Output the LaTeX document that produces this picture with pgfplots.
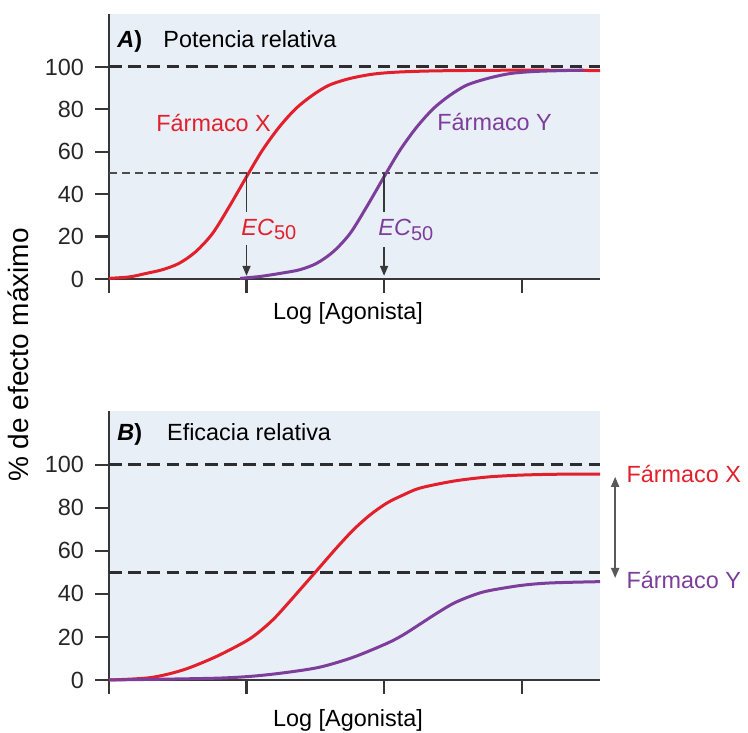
\documentclass[border=0pt]{standalone}
\usepackage{fontspec}
\setmainfont{Liberation Sans}
\usepackage{pgfplots}
\pgfplotsset{compat=1.18}
\usetikzlibrary{arrows.meta}

\definecolor{redX}{RGB}{226,32,44}
\definecolor{purY}{RGB}{125,62,155}
\definecolor{bgblue}{RGB}{233,239,247}
\definecolor{axgray}{RGB}{55,55,55}
\definecolor{dashgray}{RGB}{45,45,48}

\newcommand{\ec}{\textit{EC}\raisebox{-0.35ex}{\fontsize{10}{11}\selectfont 50}}

\tikzset{arr/.style={axgray, line width=0.8pt}}

\pgfplotsset{
  farm/.style={
    scale only axis, width=245.5pt,
    xmin=0, xmax=3.57, ymin=0, ymax=125,
    enlargelimits=false, clip=false,
    axis lines=left, axis line style={-, line width=1.3pt, color=axgray},
    axis background/.style={fill=bgblue},
    xtick={0,1,2,3}, xticklabels={},
    ytick={0,20,40,60,80,100},
    tick align=outside, major tick length=7pt,
    tick style={line width=1.1pt, color=axgray},
    yticklabel style={font=\fontsize{11.7}{14}\selectfont, color=black!85, xshift=-2pt},
    /pgf/number format/assume math mode=true,
  },
  curve/.style={line width=1.5pt, smooth, no marks},
  thickdash/.style={dashgray, line width=1.5pt, dash pattern=on 6.3pt off 3.3pt, no marks},
}

\begin{document}
\begin{tikzpicture}[font=\fontsize{11.7}{14}\selectfont]
\path[use as bounding box] (0,0) rectangle (374pt,366pt);

% A) Potencia relativa
\begin{axis}[farm, height=132.5pt, at={(54.5pt,226.5pt)}, anchor=south west]
  \addplot[thickdash] coordinates {(0,100) (3.57,100)};
  \addplot[dashgray!85, line width=0.85pt, dash pattern=on 4pt off 2.5pt, no marks] coordinates {(0,50) (3.57,50)};
  \addplot[curve, redX] coordinates {
    (0,0.3) (0.15,1.0) (0.268,2.6) (0.389,4.4) (0.51,7.4) (0.631,12.9) (0.753,21.5)
    (0.874,34.1) (1.007,49) (1.116,60.8) (1.238,71.7) (1.359,80.4) (1.48,86.7)
    (1.60,91.4) (1.747,94.5) (1.916,96.6) (2.1,97.6) (2.4,98.2) (3.0,98.5) (3.57,98.3)
  };
  \addplot[curve, purY] coordinates {
    (0.953,0.3) (1.1,1.2) (1.268,2.9) (1.389,4.4) (1.51,7.4) (1.631,12.9) (1.753,21.5)
    (1.874,34.1) (2.007,49) (2.116,60.8) (2.238,71.7) (2.359,80.4) (2.48,86.7)
    (2.60,91.4) (2.747,94.5) (2.916,96.9) (3.1,97.9) (3.3,98.3) (3.45,98.5)
  };
  \draw[arr] (axis cs:1,50) -- (axis cs:1,31.5);
  \draw[arr, -{Triangle[length=5pt,width=4pt]}] (axis cs:1,16) -- (axis cs:1,1.5);
  \draw[arr] (axis cs:2,50) -- (axis cs:2,31.5);
  \draw[arr, -{Triangle[length=5pt,width=4pt]}] (axis cs:2,15) -- (axis cs:2,1.5);
  \node[anchor=base west, inner sep=0pt, redX] at (axis cs:0.96,20.7) {\ec};
  \node[anchor=base west, inner sep=0pt, purY] at (axis cs:1.956,20.3) {\ec};
  \node[anchor=base west, inner sep=0pt, redX] at (axis cs:0.342,69.7) {Fármaco X};
  \node[anchor=base west, inner sep=0pt, purY] at (axis cs:2.385,70.2) {Fármaco Y};
  \node[anchor=base west, inner sep=0pt] at (axis cs:0.058,109.3) {\textbf{\textit{A})}};
  \node[anchor=base west, inner sep=0pt] at (axis cs:0.393,109.3) {Potencia relativa};
\end{axis}

% B) Eficacia relativa
\begin{axis}[farm, height=134.5pt, at={(54.5pt,26pt)}, anchor=south west]
  \addplot[thickdash] coordinates {(0,100) (3.57,100)};
  \addplot[thickdash] coordinates {(0,50) (3.57,50)};
  \addplot[curve, redX] coordinates {
    (0,0) (0.30,1.1) (0.54,4.7) (0.78,10.9) (1.0,18.2) (1.1,22.8) (1.2,28.5)
    (1.3,35.5) (1.41,43.5) (1.51,50.8) (1.656,61.5) (1.777,69.8) (1.898,76.7)
    (2.02,82.2) (2.14,86) (2.262,89.2) (2.504,92.4) (2.747,94.3) (2.99,95.2)
    (3.25,95.6) (3.57,95.7)
  };
  \addplot[curve, purY] coordinates {
    (0,0) (0.42,0.4) (0.81,0.9) (1.05,1.8) (1.29,3.5) (1.535,6.0) (1.777,10.6)
    (2.02,17.0) (2.14,21.0) (2.262,26.0) (2.383,31.0) (2.504,35.6) (2.626,38.9)
    (2.747,41.3) (2.99,43.9) (3.21,45.1) (3.57,45.7)
  };
  \draw[black!65, line width=0.9pt, {Triangle[length=5pt,width=4pt]}-{Triangle[length=5pt,width=4pt]}]
    (axis cs:3.68,94.4) -- (axis cs:3.68,47.4);
  \node[anchor=base west, inner sep=0pt, redX] at (axis cs:3.76,91.6) {Fármaco X};
  \node[anchor=base west, inner sep=0pt, purY] at (axis cs:3.76,42.5) {Fármaco Y};
  \node[anchor=base west, inner sep=0pt] at (axis cs:0.058,111.2) {\textbf{\textit{B})}};
  \node[anchor=base west, inner sep=0pt] at (axis cs:0.42,111.2) {Eficacia relativa};
\end{axis}

\node[anchor=base] at (174pt,206pt) {Log [Agonista]};
\node[anchor=base] at (174pt,2.8pt) {Log [Agonista]};
\node[rotate=90, anchor=base, inner sep=0pt, font=\fontsize{14}{16}\selectfont] at (14pt,188.5pt) {\% de efecto máximo};
\end{tikzpicture}
\end{document}
